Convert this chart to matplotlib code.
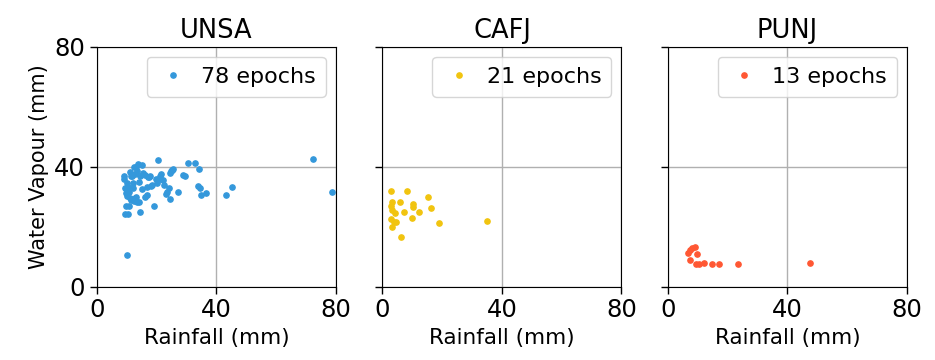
import matplotlib
matplotlib.use("Agg")
import matplotlib.pyplot as plt

stations = ["UNSA", "CAFJ", "PUNJ"]
colors = ["#3498db", "#f1c40f", "#ff5733"]

unsa_x = [9.0, 9.0, 9.4, 10.3, 9.9, 9.7, 10.7, 9.6, 9.9, 10.5, 9.3, 11.0, 11.5, 12.2, 12.5,
          13.8, 15.0, 14.4, 13.3, 12.6, 16.6, 16.0, 17.0, 17.8, 19.2, 18.5, 20.5, 21.0, 21.5,
          23.1, 24.4, 24.5, 25.0, 25.5, 24.2, 27.2, 28.9, 29.6, 30.6, 32.8, 34.3, 33.7, 34.5,
          35.0, 36.4, 43.2, 45.1, 72.2, 78.6,
          10.0, 10.8, 11.2, 11.8, 12.0, 12.8, 13.0, 13.5, 14.0, 14.5, 15.2, 15.5, 16.2, 16.8,
          17.5, 18.0, 19.8, 20.2, 21.2, 22.0, 22.5, 23.5, 24.8, 25.2, 10.2, 11.5, 12.3, 14.2,
          13.2]
unsa_y = [36.9, 35.9, 24.1, 24.2, 10.6, 27.0, 27.0, 31.1, 32.2, 33.3, 33.0, 38.3, 37.0, 34.4, 40.0,
          40.9, 40.6, 24.9, 28.3, 29.5, 33.3, 30.0, 36.5, 37.0, 27.0, 33.8, 42.2, 36.0, 37.5,
          30.8, 29.2, 37.8, 38.8, 39.2, 33.0, 31.7, 37.2, 37.0, 41.1, 41.3, 39.1, 33.7, 33.0,
          30.6, 31.1, 30.7, 33.1, 42.6, 31.4,
          34.5, 31.5, 29.5, 36.8, 33.0, 37.5, 30.0, 38.5, 35.0, 37.0, 32.5, 38.0, 37.2, 30.5,
          36.5, 33.5, 36.0, 34.5, 37.0, 35.5, 33.8, 31.5, 38.5, 39.0, 30.2, 28.8, 28.5, 28.2,
          39.8]

cafj_x = [3.0, 8.2, 15.1, 3.2, 5.8, 3.0, 10.3, 10.3, 3.2, 16.4, 7.3, 12.2, 4.1, 10.0, 2.8,
          4.4, 3.7, 18.8, 3.3, 34.9, 6.1]
cafj_y = [31.9, 31.9, 29.8, 28.1, 28.1, 26.9, 27.6, 26.5, 25.7, 26.1, 25.0, 24.8, 24.5, 23.0, 22.5,
          21.7, 21.5, 21.1, 20.0, 21.9, 16.5]

punj_x = [6.6, 8.0, 9.1, 9.7, 7.3, 9.5, 10.3, 12.1, 14.7, 17.0, 23.4, 47.4, 7.5]
punj_y = [11.3, 12.8, 13.3, 10.9, 8.7, 7.5, 7.5, 7.8, 7.6, 7.6, 7.5, 8.0, 12.2]

xs = [unsa_x, cafj_x, punj_x]
ys = [unsa_y, cafj_y, punj_y]
ticks = [0, 40, 80]

fig, axes = plt.subplots(1, 3, figsize=(9.35, 3.6), dpi=100, sharey=True)
fig.subplots_adjust(left=0.1037, right=0.970, bottom=0.204, top=0.870, wspace=0.195)

for ax, name, c, x, y in zip(axes, stations, colors, xs, ys):
    ax.plot(x, y, linestyle="", marker="o", markersize=3.8, color=c,
            label=f"{len(x)} epochs")
    ax.set_xlim(0, 80)
    ax.set_ylim(0, 80)
    ax.set_xticks(ticks)
    ax.set_yticks(ticks)
    ax.grid(True, color="#b0b0b0", linewidth=1.0)
    ax.set_axisbelow(True)
    ax.tick_params(labelsize=17.5, length=5, width=1.0)
    ax.set_title(name, fontsize=18.5)
    ax.set_xlabel("Rainfall (mm)", fontsize=15.5)
    ax.legend(loc="upper right", fontsize=16, handletextpad=0.5, handlelength=1.5,
              borderpad=0.45, markerscale=1.0, borderaxespad=0.45)

axes[0].set_ylabel("Water Vapour (mm)", fontsize=15)

fig.savefig("out.png", dpi=100)
